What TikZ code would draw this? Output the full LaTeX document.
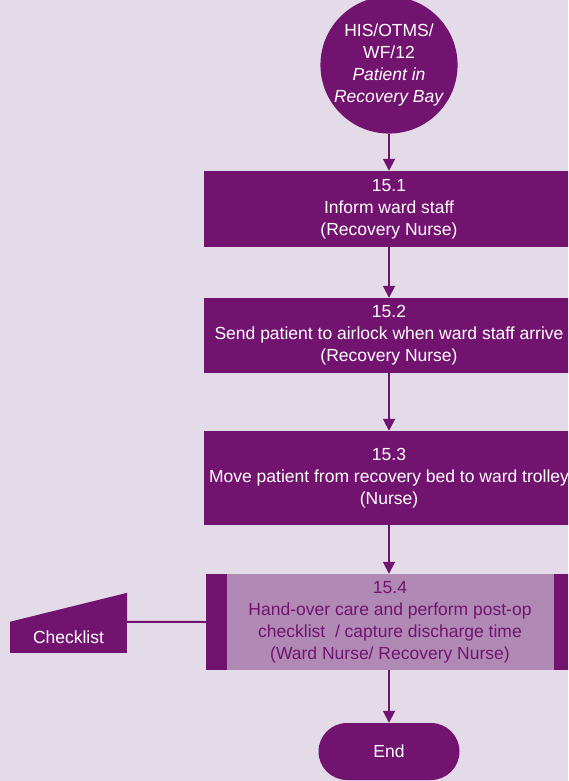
\documentclass[tikz,border=0pt]{standalone}
\usepackage{fontspec}
\setmainfont{Liberation Sans}
\usetikzlibrary{arrows.meta,calc}
\definecolor{plum}{RGB}{114,19,111}
\definecolor{lilac}{RGB}{176,138,181}
\definecolor{paper}{RGB}{228,219,232}

\begin{document}
\begin{tikzpicture}[x=1pt,y=-1pt,
  every node/.style={font=\fontsize{17.5}{22}\selectfont, align=center, inner sep=0pt},
  stepbox/.style={rectangle, fill=plum, text=white, minimum width=370, minimum height=#1},
  handbox/.style={rectangle, fill=plum, text=plum, minimum width=368, minimum height=96,
    path picture={\fill[lilac] ([xshift=21pt]path picture bounding box.south west)
      rectangle ([xshift=-20pt]path picture bounding box.north east);}},
  flow/.style={draw=plum, line width=1.8pt, -{Triangle[width=12pt,length=12pt]}},
  link/.style={draw=plum, line width=2pt}]

\useasboundingbox (0,0) rectangle (568,781);
\clip (0,0) rectangle (568,781);
\fill[paper] (0,0) rectangle (568,781);

% start connector
\node[circle, fill=plum, text=white, minimum size=130] (start) at (389,65)
  {HIS/OTMS/\\WF/12\\\textit{Patient in}\\\textit{Recovery Bay}};

% process steps
\node[stepbox=76] (b1) at (389,209) {15.1\\Inform ward staff\\(Recovery Nurse)};
\node[stepbox=75] (b2) at (389,335.5) {15.2\\Send patient to airlock when ward staff arrive\\(Recovery Nurse)};
\node[stepbox=94] (b3) at (389,478) {15.3\\Move patient from recovery bed to ward trolley\\(Nurse)};
\node[handbox] (b4) at (390,622) {15.4\\Hand-over care and perform post-op\\checklist \ / capture discharge time\\(Ward Nurse/ Recovery Nurse)};

% terminator
\node[rectangle, rounded corners=28.5pt, fill=plum, text=white, minimum width=141, minimum height=57] (stop) at (389,751.5) {End};

% manual input: checklist
\node[rectangle, fill=plum, text=white, minimum width=117, minimum height=31] (chk) at (68.5,637.5) {Checklist};
\fill[plum] (chk.north west) -- (chk.north east) -- ([yshift=29pt]chk.north east) -- cycle;

% connectors
\draw[flow] (start.south) -- (b1.north);
\draw[flow] (b1.south) -- (b2.north);
\draw[flow] (b2.south) -- (b3.north);
\draw[flow] (b3.south) -- (b3.south |- b4.north);
\draw[flow] (b3.south |- b4.south) -- (stop.north);
\draw[link] (chk.north east) -- (b4.west);
\end{tikzpicture}
\end{document}
